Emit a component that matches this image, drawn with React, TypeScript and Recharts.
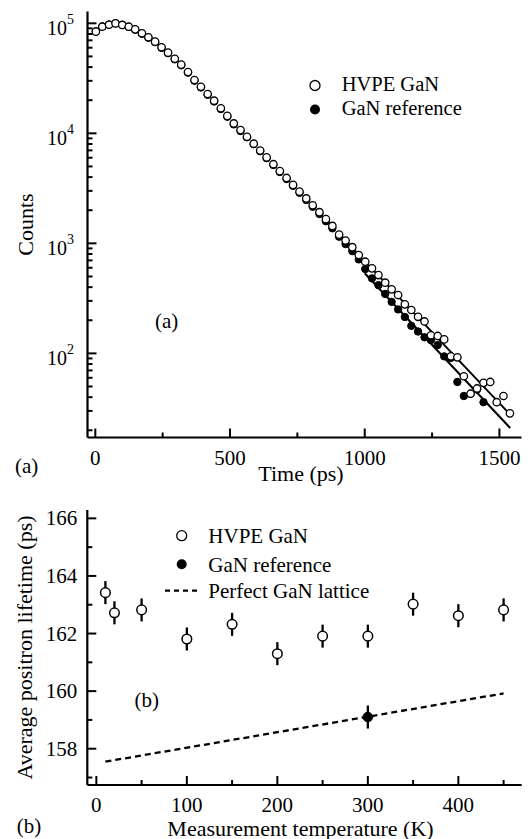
import React from "react"
import {
  ComposedChart,
  Scatter,
  XAxis,
  YAxis,
  ErrorBar,
  Legend,
} from "recharts"

const FONT = "'Liberation Serif', 'Times New Roman', serif"

// ---- panel (a): positron lifetime spectra ----
const timeGrid = [
  2, 26, 51, 75, 100, 124, 148, 173, 197, 222,
  246, 270, 295, 319, 344, 368, 392, 417, 441, 466,
  490, 514, 539, 563, 588, 612, 636, 661, 685, 710,
  734, 758, 783, 807, 832, 856, 880, 905, 929, 954,
  978, 1002, 1027, 1051, 1076, 1100, 1124, 1149, 1173, 1198,
  1222, 1246, 1271, 1295, 1320, 1344, 1368, 1393, 1417, 1441,
  1466, 1490, 1515, 1539,
]
const hvpeCounts = [
  84000, 93100, 97000, 99800, 96600, 93100, 88100, 81100, 74600, 68100,
  60500, 54100, 47600, 42100, 36100, 30500, 26500, 22750, 19800, 16900,
  14400, 12300, 10700, 9310, 8050, 6970, 6040, 5240, 4530, 3930,
  3400, 2950, 2560, 2220, 1920, 1660, 1440, 1200, 1060, 923,
  783, 681, 593, 515, 439, 382, 339, 279, 248, 215,
  195, 146, 144, 134, 94, 92, 62, 43, 48, 54,
  55, 36, 41, 28.5,
]
const refCounts = [
  84500, 93500, 97500, 100000, 96500, 92800, 87600, 80500, 74000, 67400,
  59900, 53500, 47000, 41500, 35600, 30100, 26100, 22400, 19450, 16600,
  14150, 12050, 10500, 9200, 7960, 6880, 5950, 5150, 4450, 3840,
  3330, 2880, 2480, 2150, 1850, 1590, 1370, 1150, 985, 850,
  715, 585, 481, 417, 347, 294, 251, 214, 178, 158,
  140, 132, 119, 94, 91, 55, 41, 43, 47, 36,
]
// straight fits through the tails
const hvpeFitTime = [1000, 1545]
const hvpeFitCounts = [690, 27]
const refFitTime = [1000, 1540]
const refFitCounts = [535, 21]

const timeMajor = [0, 500, 1000, 1500]
const timeMinor = [250, 750, 1250]
const countMajor = [100, 1000, 10000, 100000]
const countMinor = [
  20, 30, 40, 50, 60, 70, 80, 90,
  200, 300, 400, 500, 600, 700, 800, 900,
  2000, 3000, 4000, 5000, 6000, 7000, 8000, 9000,
  20000, 30000, 40000, 50000, 60000, 70000, 80000, 90000,
]

// ---- panel (b): average lifetime vs temperature ----
const tempK = [10, 20, 50, 100, 150, 200, 250, 300, 350, 400, 450]
const hvpeLifetime = [163.42, 162.72, 162.82, 161.81, 162.32, 161.3, 161.91, 161.91, 163.02, 162.62, 162.82]
const hvpeError = [0.4, 0.4, 0.4, 0.4, 0.4, 0.4, 0.4, 0.4, 0.4, 0.4, 0.4]
const refTemp = [300]
const refLifetime = [159.1]
const refError = [0.4]
const latticeTemp = [10, 450]
const latticeLifetime = [157.55, 159.92]

const tempMajor = [0, 100, 200, 300, 400]
const tempMinor = [50, 150, 250, 350, 450]
const lifeMajor = [158, 160, 162, 164, 166]
const lifeMinor = [157, 159, 161, 163, 165]

const zip = (xs: number[], ys: number[], es?: number[]) =>
  ys.map((y, i) => ({ x: xs[i], y, e: es ? es[i] : 0 }))

const hvpeData = zip(timeGrid, hvpeCounts)
const refData = zip(timeGrid, refCounts)
const hvpeFit = zip(hvpeFitTime, hvpeFitCounts)
const refFit = zip(refFitTime, refFitCounts)

const lifeHvpe = zip(tempK, hvpeLifetime, hvpeError)
const lifeRef = zip(refTemp, refLifetime, refError)
const lattice = zip(latticeTemp, latticeLifetime)

const sorted = (a: number[], b: number[]) => [...a, ...b].sort((p, q) => p - q)

// inward ticks, longer on the labelled ones
function makeTick(majors: number[], side: string, label?: (v: number, x: number, y: number) => React.ReactNode) {
  return (p: any) => {
    const v = p.payload.value
    const major = majors.includes(v)
    const len = major ? 9 : 5
    const { x, y } = p
    let x2 = x
    let y2 = y
    if (side === "left") x2 = x + len
    if (side === "right") x2 = x - len
    if (side === "top") y2 = y + len
    if (side === "bottom") y2 = y - len
    return (
      <g>
        <line x1={x} y1={y} x2={x2} y2={y2} stroke="#000" strokeWidth={2} />
        {major && label ? label(v, x, y) : null}
      </g>
    )
  }
}

const axisLine = { stroke: "#000", strokeWidth: 2.2 }

const openDot = (r: number, sw: number) => (p: any) =>
  <circle cx={p.cx} cy={p.cy} r={r} fill="#fff" stroke="#000" strokeWidth={sw} />
const filledDot = (r: number) => (p: any) =>
  <circle cx={p.cx} cy={p.cy} r={r} fill="#000" stroke="#000" strokeWidth={1} />
const noDot = () => <g />

function LegendA() {
  return (
    <svg width={230} height={60} style={{ display: "block" }}>
      <circle cx={15} cy={15.5} r={5} fill="#fff" stroke="#000" strokeWidth={1.3} />
      <text x={41.7} y={21} fontFamily={FONT} fontSize={20.5}>HVPE GaN</text>
      <circle cx={15} cy={39.5} r={5} fill="#000" />
      <text x={41.7} y={45} fontFamily={FONT} fontSize={20.5}>GaN reference</text>
    </svg>
  )
}

function LegendB() {
  return (
    <svg width={260} height={90} style={{ display: "block" }}>
      <circle cx={21.7} cy={15.7} r={5} fill="#fff" stroke="#000" strokeWidth={1.3} />
      <text x={48.3} y={23} fontFamily={FONT} fontSize={21}>HVPE GaN</text>
      <circle cx={21.7} cy={44.3} r={5} fill="#000" />
      <text x={48.3} y={51.5} fontFamily={FONT} fontSize={21}>GaN reference</text>
      <line x1={5} y1={70.7} x2={38.3} y2={70.7} stroke="#000" strokeWidth={2.3} strokeDasharray="5 4" />
      <text x={48.3} y={78} fontFamily={FONT} fontSize={21}>Perfect GaN lattice</text>
    </svg>
  )
}

function TopPanel() {
  const xTicks = sorted(timeMajor, timeMinor)
  const yTicks = sorted(countMajor, countMinor)
  const xDomain = [-29, 1582]
  const yDomain = [17.2, 128000]
  return (
    <ComposedChart width={531} height={490} margin={{ top: 11.5, right: 9.5, left: 0, bottom: 12.5 }}>
      <XAxis
        xAxisId="b" dataKey="x" type="number" domain={xDomain} allowDataOverflow
        ticks={xTicks} interval={0} height={40} axisLine={axisLine}
        tickLine={false} tickSize={0} tickMargin={0}
        tick={makeTick(timeMajor, "bottom", (v, x, y) => (
          <text x={x} y={y + 27} textAnchor="middle" fontFamily={FONT} fontSize={21}>{v}</text>
        ))}
        label={{
          content: (p: any) => (
            <text x={p.viewBox.x + p.viewBox.width / 2 - 3.5} y={p.viewBox.y + 43.5}
              textAnchor="middle" fontFamily={FONT} fontSize={22}>Time (ps)</text>
          ),
        }}
      />
      <XAxis
        xAxisId="t" orientation="top" dataKey="x" type="number" domain={xDomain} allowDataOverflow
        ticks={xTicks} interval={0} height={0} axisLine={axisLine}
        tickLine={false} tickSize={0} tickMargin={0}
        tick={makeTick(timeMajor, "top")}
      />
      <YAxis
        yAxisId="l" dataKey="y" type="number" scale="log" domain={yDomain} allowDataOverflow
        ticks={yTicks} interval={0} width={87.5} axisLine={axisLine}
        tickLine={false} tickSize={0} tickMargin={0}
        tick={makeTick(countMajor, "left", (v, x, y) => (
          <text x={x - 13.5} y={y + 11.5} textAnchor="end" fontFamily={FONT} fontSize={20}>
            10<tspan dy={-11} fontSize={14}>{Math.round(Math.log10(v))}</tspan>
          </text>
        ))}
        label={{
          content: (p: any) => {
            const cx = p.viewBox.x + 33
            const cy = p.viewBox.y + p.viewBox.height / 2
            return (
              <text x={cx} y={cy} transform={`rotate(-90 ${cx} ${cy})`}
                textAnchor="middle" fontFamily={FONT} fontSize={22}>Counts</text>
            )
          },
        }}
      />
      <YAxis
        yAxisId="r" orientation="right" dataKey="y" type="number" scale="log" domain={yDomain} allowDataOverflow
        ticks={yTicks} interval={0} width={0} axisLine={axisLine}
        tickLine={false} tickSize={0} tickMargin={0}
        tick={makeTick(countMajor, "right")}
      />

      <Scatter xAxisId="b" yAxisId="l" data={refFit} line={{ stroke: "#000", strokeWidth: 2 }}
        shape={noDot} isAnimationActive={false} />
      <Scatter xAxisId="b" yAxisId="l" data={hvpeFit} line={{ stroke: "#000", strokeWidth: 2 }}
        shape={noDot} isAnimationActive={false} />
      <Scatter xAxisId="b" yAxisId="l" data={refData} shape={filledDot(3.7)} isAnimationActive={false} />
      <Scatter xAxisId="b" yAxisId="l" data={hvpeData} shape={openDot(3.7, 1.3)} isAnimationActive={false} />

      <Legend layout="horizontal" verticalAlign="middle" align="center" width={230} height={60}
        wrapperStyle={{ left: 300, top: 70 }} content={() => <LegendA />} />
    </ComposedChart>
  )
}

function BottomPanel() {
  const xTicks = sorted(tempMajor, tempMinor)
  const yTicks = sorted(lifeMajor, lifeMinor)
  const xDomain = [-10, 470]
  const yDomain = [156.74, 166.29]
  return (
    <ComposedChart width={531} height={349} margin={{ top: 20, right: 9.3, left: 0, bottom: 14 }}>
      <XAxis
        xAxisId="b" dataKey="x" type="number" domain={xDomain} allowDataOverflow
        ticks={xTicks} interval={0} height={40} axisLine={axisLine}
        tickLine={false} tickSize={0} tickMargin={0}
        tick={makeTick(tempMajor, "bottom", (v, x, y) => (
          <text x={x} y={y + 27} textAnchor="middle" fontFamily={FONT} fontSize={21}>{v}</text>
        ))}
        label={{
          content: (p: any) => (
            <text x={p.viewBox.x + p.viewBox.width / 2 - 4} y={p.viewBox.y + 50.5}
              textAnchor="middle" fontFamily={FONT} fontSize={22}>Measurement temperature (K)</text>
          ),
        }}
      />
      <XAxis
        xAxisId="t" orientation="top" dataKey="x" type="number" domain={xDomain} allowDataOverflow
        ticks={xTicks} interval={0} height={0} axisLine={axisLine}
        tickLine={false} tickSize={0} tickMargin={0}
        tick={makeTick(tempMajor, "top")}
      />
      <YAxis
        yAxisId="l" dataKey="y" type="number" domain={yDomain} allowDataOverflow
        ticks={yTicks} interval={0} width={87.3} axisLine={axisLine}
        tickLine={false} tickSize={0} tickMargin={0}
        tick={makeTick(lifeMajor, "left", (v, x, y) => (
          <text x={x - 10} y={y + 7} textAnchor="end" fontFamily={FONT} fontSize={21}>{v}</text>
        ))}
        label={{
          content: (p: any) => {
            const cx = p.viewBox.x + 32
            const cy = p.viewBox.y + p.viewBox.height / 2
            return (
              <text x={cx} y={cy} transform={`rotate(-90 ${cx} ${cy})`}
                textAnchor="middle" fontFamily={FONT} fontSize={22}>Average positron lifetime (ps)</text>
            )
          },
        }}
      />
      <YAxis
        yAxisId="r" orientation="right" dataKey="y" type="number" domain={yDomain} allowDataOverflow
        ticks={yTicks} interval={0} width={0} axisLine={axisLine}
        tickLine={false} tickSize={0} tickMargin={0}
        tick={makeTick(lifeMajor, "right")}
      />

      <Scatter xAxisId="b" yAxisId="l" data={lattice}
        line={{ stroke: "#000", strokeWidth: 2.3, strokeDasharray: "6 4" }}
        shape={noDot} isAnimationActive={false} />
      <Scatter xAxisId="b" yAxisId="l" data={lifeRef} shape={filledDot(4.8)} isAnimationActive={false}>
        <ErrorBar dataKey="e" direction="y" width={0} stroke="#000" strokeWidth={2.3} />
      </Scatter>
      <Scatter xAxisId="b" yAxisId="l" data={lifeHvpe} shape={openDot(4.8, 1.5)} isAnimationActive={false}>
        <ErrorBar dataKey="e" direction="y" width={0} stroke="#000" strokeWidth={2.3} />
      </Scatter>

      <Legend layout="horizontal" verticalAlign="middle" align="center" width={260} height={90}
        wrapperStyle={{ left: 160, top: 30 }} content={() => <LegendB />} />
    </ComposedChart>
  )
}

export default function App() {
  return (
    <div style={{ position: "absolute", left: 0, top: 0, width: 531, height: 839, background: "#fff", fontFamily: FONT }}>
      <div style={{ position: "absolute", left: 0, top: 0 }}>
        <TopPanel />
      </div>
      <div style={{ position: "absolute", left: 0, top: 490 }}>
        <BottomPanel />
      </div>
      {/* panel letters */}
      <svg width={531} height={839} style={{ position: "absolute", left: 0, top: 0, pointerEvents: "none" }}>
        <text x={15} y={473} fontFamily={FONT} fontSize={21}>(a)</text>
        <text x={166.7} y={328} textAnchor="middle" fontFamily={FONT} fontSize={21}>(a)</text>
        <text x={16.7} y={833} fontFamily={FONT} fontSize={21}>(b)</text>
        <text x={146.7} y={707} textAnchor="middle" fontFamily={FONT} fontSize={21}>(b)</text>
      </svg>
    </div>
  )
}
